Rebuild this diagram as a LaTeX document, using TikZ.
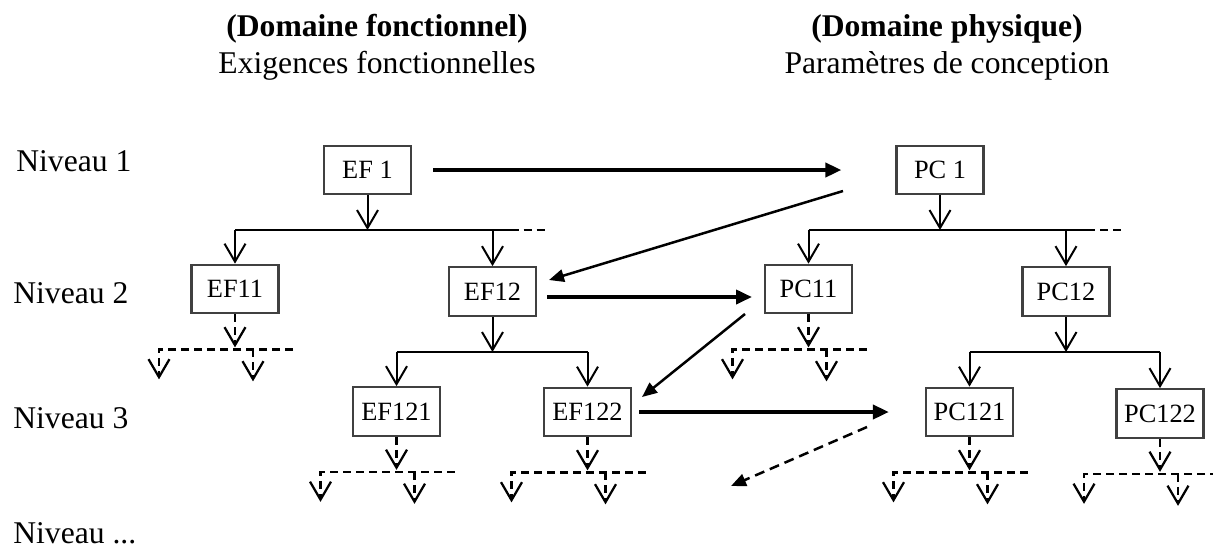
\documentclass[tikz,border=0pt]{standalone}
\usepackage{fontspec}
\setmainfont{Liberation Serif}
\usepackage{tikz}
\usetikzlibrary{arrows.meta}

\begin{document}
\begin{tikzpicture}[x=0.02cm,y=-0.02cm,
box/.style={draw=black!75,line width=0.045cm,minimum width=1.74cm,minimum height=0.97cm,inner sep=1pt,font=\fontsize{15}{17}\selectfont},
lvl/.style={anchor=base west,inner sep=0pt,font=\fontsize{18}{21}\selectfont},
head/.style={anchor=base,inner sep=0pt,font=\fontsize{18}{21}\selectfont},
tree/.style={line width=0.04cm},
barb/.style={-{Straight Barb[length=0.36cm,width=0.42cm]}},
sub/.style={line width=0.045cm,dash pattern=on 0.16cm off 0.1cm},
bigarrow/.style={line width=0.075cm,-{Triangle[length=0.32cm,width=0.28cm]}},
midarrow/.style={line width=0.05cm,-{Triangle[length=0.3cm,width=0.25cm]}}]

\useasboundingbox (0,0) rectangle (1213,549);

% domaines
\node[head,font=\fontsize{18}{21}\selectfont\bfseries] (tf) at (377,36) {(Domaine fonctionnel)};
\node[head] (ef) at (377,73) {Exigences fonctionnelles};
\node[head,font=\fontsize{18}{21}\selectfont\bfseries] (tp) at (947,36) {(Domaine physique)};
\node[head] (pc) at (947,73) {Paramètres de conception};

% niveaux
\node[lvl] (n1) at (16,171) {Niveau 1};
\node[lvl] (n2) at (13,303) {Niveau 2};
\node[lvl] (n3) at (13,428) {Niveau 3};
\node[lvl] (n4) at (13,543) {Niveau ...};

% boites
\node[box] (EF1) at (367.5,170) {EF 1};
\node[box] (PC1) at (940,170) {PC 1};
\node[box] (EF11) at (235,289) {EF11};
\node[box] (EF12) at (492.5,291.5) {EF12};
\node[box] (PC11) at (808.5,289) {PC11};
\node[box] (PC12) at (1066,291.5) {PC12};
\node[box] (EF121) at (396.5,411.5) {EF121};
\node[box] (EF122) at (587.5,412) {EF122};
\node[box] (PC121) at (969.5,412) {PC121};
\node[box] (PC122) at (1160,413.5) {PC122};

% niveau 1 -> 2
\coordinate (j1) at (0,230);
\draw[tree,barb] (EF1.south) -- (EF1 |- j1);
\draw[tree] (EF11 |- j1) -- (EF12 |- j1) -- ++(18,0);
\draw[sub] (EF12 |- j1) ++(18,0) -- ++(35,0);
\draw[tree,barb] (EF11 |- j1) -- (EF11.north);
\draw[tree,barb] (EF12 |- j1) -- (EF12.north);
\draw[tree,barb] (PC1.south) -- (PC1 |- j1);
\draw[tree] (PC11 |- j1) -- (PC12 |- j1) -- ++(21,0);
\draw[sub] (PC12 |- j1) ++(21,0) -- ++(38,0);
\draw[tree,barb] (PC11 |- j1) -- (PC11.north);
\draw[tree,barb] (PC12 |- j1) -- (PC12.north);

% niveau 2 -> 3
\coordinate (j2) at (0,352);
\draw[tree,barb] (EF12.south) -- (EF12 |- j2);
\draw[tree] (EF121 |- j2) -- (EF122 |- j2);
\draw[tree,barb] (EF121 |- j2) -- (EF121.north);
\draw[tree,barb] (EF122 |- j2) -- (EF122.north);
\draw[tree,barb] (PC12.south) -- (PC12 |- j2);
\draw[tree] (PC121 |- j2) -- (PC122 |- j2);
\draw[tree,barb] (PC121 |- j2) -- (PC121.north);
\draw[tree,barb] (PC122 |- j2) -- (PC122.north);

% sous-niveaux en pointilles
\foreach \n in {EF11,EF121,EF122,PC11,PC121,PC122}{
  \draw[sub,barb] (\n.south) -- ++(0,33);
  \draw[sub,barb] (\n.south) ++(58,35) -- ++(-134,0) -- ++(0,30);
  \draw[sub,barb] (\n.south) ++(18,35) -- ++(0,32);
}

% correspondances entre domaines
\coordinate (a2s) at (843,191);
\coordinate (a2e) at (549,280);
\coordinate (a3s) at (547,297);
\coordinate (a3e) at (752,297);
\coordinate (a5s) at (745,314);
\coordinate (a5e) at (642,397);
\coordinate (a6s) at (867,427);
\coordinate (a6e) at (731,486);
\draw[bigarrow,shorten <=0.42cm,shorten >=1.08cm] (EF1.east) -- (PC1.west);
\draw[midarrow] (a2s) -- (a2e);
\draw[bigarrow] (a3s) -- (a3e);
\draw[midarrow] (a5s) -- (a5e);
\draw[bigarrow,shorten <=0.14cm,shorten >=0.72cm] (EF122.east) -- (PC121.west);
\draw[midarrow,dash pattern=on 0.2cm off 0.12cm] (a6s) -- (a6e);
\end{tikzpicture}
\end{document}
